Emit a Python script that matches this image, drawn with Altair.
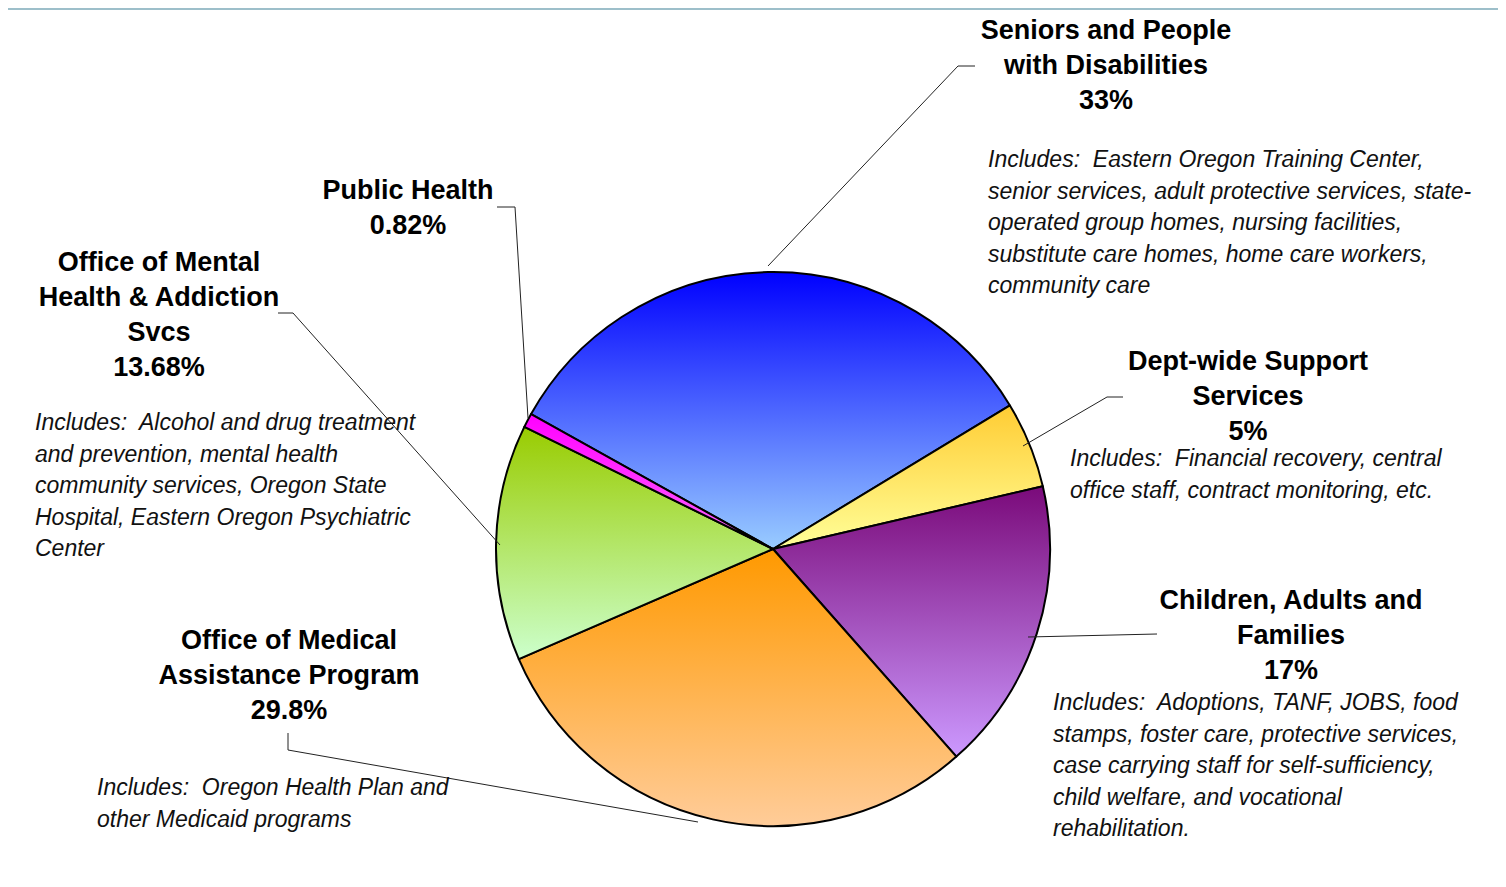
import math
import altair as alt
import pandas as pd

# ---- data ----
categories = [
    "Seniors and People with Disabilities",
    "Dept-wide Support Services",
    "Children, Adults and Families",
    "Office of Medical Assistance Program",
    "Office of Mental Health & Addiction Svcs",
    "Public Health",
]
values = [33, 5, 17, 29.8, 13.68, 0.82]
title_lines = [
    ["Seniors and People", "with Disabilities"],
    ["Dept-wide Support", "Services"],
    ["Children, Adults and", "Families"],
    ["Office of Medical", "Assistance Program"],
    ["Office of Mental", "Health & Addiction", "Svcs"],
    ["Public Health"],
]
includes = [
    ["Includes:\u00a0 Eastern Oregon Training Center,",
     "senior services, adult protective services, state-",
     "operated group homes, nursing facilities,",
     "substitute care homes, home care workers,",
     "community care"],
    ["Includes:\u00a0 Financial recovery, central",
     "office staff, contract monitoring, etc."],
    ["Includes:\u00a0 Adoptions, TANF, JOBS, food",
     "stamps, foster care, protective services,",
     "case carrying staff for self-sufficiency,",
     "child welfare, and vocational",
     "rehabilitation."],
    ["Includes:\u00a0 Oregon Health Plan and",
     "other Medicaid programs"],
    ["Includes:\u00a0 Alcohol and drug treatment",
     "and prevention, mental health",
     "community services, Oregon State",
     "Hospital, Eastern Oregon Psychiatric",
     "Center"],
    [],
]
grad_top = ["#0000ff", "#ffcc33", "#7a0a7a", "#ff9900", "#99cc00", "#ff00ff"]
grad_bottom = ["#99ccff", "#ffff99", "#cc99ff", "#ffcc99", "#ccffcc", "#ff66ff"]

# ---- layout (annotation placement, chart pixels; y = first line centre) ----
W, H = 1490, 868
CX, CY, R = 765, 541, 277
START = -1.062
title_pos = [(1098, 23), (1240, 354), (1283, 593), (281, 633), (151, 255), (400, 183)]
incl_pos = [(980, 152), (1062, 451), (1045, 695), (89, 780), (27, 415), None]
leaders = [
    [(760, 258), (950, 58), (967, 58)],
    [(1015, 438), (1099, 389), (1115, 389)],
    [(1020, 629), (1149, 626)],
    [(280, 725), (280, 742), (690, 814)],
    [(270, 305), (285, 305), (492, 537)],
    [(489, 199), (507, 199), (520, 410)],
]

df = pd.DataFrame({"category": categories, "value": values, "order": list(range(len(values)))})
total = float(sum(values))
theta_scale = alt.Scale(domain=[0, total], range=[START, START + 2 * math.pi])

base = (
    alt.Chart(df)
    .transform_window(cum="sum(value)", frame=[None, 0], sort=[alt.SortField("order")])
    .transform_calculate(start="datum.cum - datum.value")
)

layers = []
one = pd.DataFrame({"k": [0]})
layers.append(
    alt.Chart(one).mark_rect(color="#9dbfca").encode(
        x=alt.value(0), x2=alt.value(W), y=alt.value(0), y2=alt.value(2)
    )
)

for i, cat in enumerate(categories):
    grad = {
        "gradient": "linear",
        "x1": 0, "y1": 0, "x2": 0, "y2": 1,
        "stops": [
            {"offset": 0, "color": grad_top[i]},
            {"offset": 1, "color": grad_bottom[i]},
        ],
    }
    layers.append(
        base.transform_filter(alt.datum.order == i)
        .mark_arc(fill=grad, stroke="black", strokeWidth=2, radius=R, strokeJoin="round")
        .encode(
            theta=alt.Theta("start:Q", stack=None, scale=theta_scale),
            theta2="cum:Q",
            x=alt.value(CX),
            y=alt.value(CY),
        )
    )

# leader lines
for pts in leaders:
    for (x1, y1), (x2, y2) in zip(pts[:-1], pts[1:]):
        layers.append(
            alt.Chart(one).mark_rule(color="#222222", strokeWidth=1).encode(
                x=alt.value(x1), y=alt.value(y1), x2=alt.value(x2), y2=alt.value(y2)
            )
        )

# labels
for i, cat in enumerate(categories):
    txt = "\n".join(title_lines[i] + [f"{values[i]:g}%"])
    tx, ty = title_pos[i]
    layers.append(
        alt.Chart(pd.DataFrame({"t": [txt]})).mark_text(
            font="Liberation Sans", fontSize=27, fontWeight="bold", color="#000000",
            align="center", baseline="middle", lineBreak="\n", lineHeight=35,
        ).encode(text="t:N", x=alt.value(tx), y=alt.value(ty))
    )
    if includes[i]:
        ix, iy = incl_pos[i]
        layers.append(
            alt.Chart(pd.DataFrame({"t": ["\n".join(includes[i])]})).mark_text(
                font="Liberation Sans", fontSize=23, fontStyle="italic", color="#111111",
                align="left", baseline="middle", lineBreak="\n", lineHeight=31.5,
            ).encode(text="t:N", x=alt.value(ix), y=alt.value(iy))
        )

chart = (
    alt.layer(*layers)
    .properties(width=W, height=H, padding=0,
                autosize=alt.AutoSizeParams(type="fit", contains="padding"))
    .configure_view(stroke=None)
)

chart.save("out.html", embed_options={"renderer": "svg", "actions": False})
